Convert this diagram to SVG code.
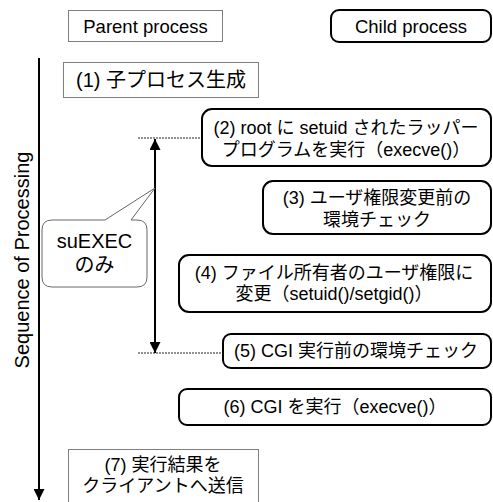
<svg xmlns="http://www.w3.org/2000/svg" width="493" height="502" viewBox="0 0 493 502">
<defs>
<style>
text{font-family:"Liberation Sans","Noto Sans CJK JP",sans-serif;font-size:18px;fill:#000;text-anchor:middle;dominant-baseline:central}
.gbox{fill:#fff;stroke:#7f7f7f;stroke-width:1}
.rbox{fill:#fff;stroke:#000;stroke-width:2}
.axis{stroke:#000;stroke-width:2;fill:none}
.dot{stroke:#222;stroke-width:1;stroke-dasharray:2 1;fill:none}
.callout{fill:#fff;stroke:#666;stroke-width:1}
</style>
<marker id="ah" viewBox="0 0 10 10" refX="10" refY="5" markerWidth="5.5" markerHeight="5.5" orient="auto-start-reverse" markerUnits="strokeWidth">
<path d="M0,0 L10,5 L0,10 Z" fill="#000"/>
</marker>
</defs>
<g id="connectors">
<line class="axis" x1="39" y1="58" x2="39" y2="500" marker-end="url(#ah)"/>
<line class="dot" x1="138" y1="138" x2="201" y2="138"/>
<line class="dot" x1="138" y1="353" x2="222" y2="353"/>
<line class="axis" x1="155" y1="139" x2="155" y2="353" marker-start="url(#ah)" marker-end="url(#ah)"/>
</g>
<g id="axis-label">
<text x="22" y="260" transform="rotate(-90 22 260)" style="font-size:20px">Sequence of Processing</text>
</g>
<g id="parent-header">
<rect class="gbox" x="68.5" y="10.5" width="154" height="31"/>
<text x="145.5" y="26" style="font-size:18.5px">Parent process</text>
</g>
<g id="child-header">
<rect class="rbox" x="331" y="10" width="160" height="32" rx="8"/>
<text x="411" y="26" style="font-size:18.5px">Child process</text>
</g>
<g id="step1">
<rect class="gbox" x="63.5" y="62.5" width="195" height="35"/>
<text x="161" y="80" style="font-size:20px">(1) 子プロセス生成</text>
</g>
<g id="step2">
<rect class="rbox" x="202" y="109" width="289" height="57" rx="10"/>
<text x="346" y="128">(2) root に setuid されたラッパー</text>
<text x="346" y="150">プログラムを実行（execve()）</text>
</g>
<g id="step3">
<rect class="rbox" x="263" y="181" width="228" height="53" rx="10"/>
<text x="377" y="198">(3) ユーザ権限変更前の</text>
<text x="377" y="220">環境チェック</text>
</g>
<g id="step4">
<rect class="rbox" x="179" y="255" width="312" height="57" rx="10"/>
<text x="334" y="273">(4) ファイル所有者のユーザ権限に</text>
<text x="334" y="294">変更（setuid()/setgid()）</text>
</g>
<g id="step5">
<rect class="rbox" x="223" y="334" width="268" height="34" rx="8"/>
<text x="356" y="351">(5) CGI 実行前の環境チェック</text>
</g>
<g id="step6">
<rect class="rbox" x="179" y="389" width="312" height="36" rx="8"/>
<text x="335" y="407">(6) CGI を実行（execve()）</text>
</g>
<g id="step7">
<rect class="gbox" x="68.5" y="449.5" width="190" height="60"/>
<text x="163" y="465">(7) 実行結果を</text>
<text x="163" y="486">クライアントへ送信</text>
</g>
<g id="callout">
<path class="callout" d="M52,220 L105,220 L155,188 L131,220 L137,220 Q147,220 147,230 L147,277 Q147,287 137,287 L52,287 Q42,287 42,277 L42,230 Q42,220 52,220 Z"/>
<text x="94.5" y="241" style="font-size:20px">suEXEC</text>
<text x="94.5" y="265" style="font-size:20px">のみ</text>
</g>
</svg>
